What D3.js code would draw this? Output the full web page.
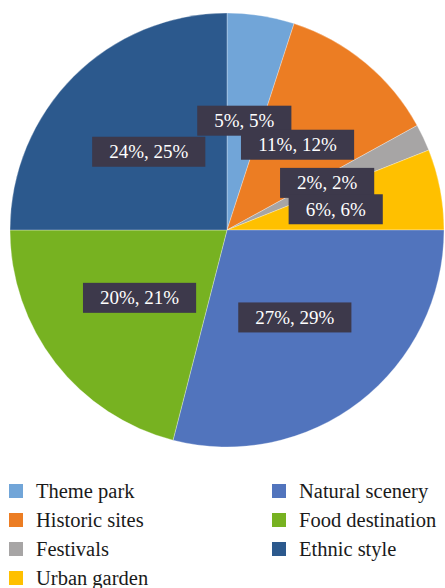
<!DOCTYPE html>
<html>
<head>
<meta charset="utf-8">
<script src="https://cdn.jsdelivr.net/npm/d3@7/dist/d3.min.js"></script>
<style>
  html, body { margin: 0; padding: 0; background: #ffffff; }
  svg { display: block; }
  svg text { font-family: 'Liberation Serif' !important; }
</style>
</head>
<body>
<svg id="pie" width="445" height="588"></svg>
<script>
// Tourism preference categories
const categories = ["Theme park", "Historic sites", "Festivals", "Urban garden",
                    "Natural scenery", "Food destination", "Ethnic style"];
// First figure in each label
const firstShare = [5, 11, 2, 6, 27, 20, 24];
// Second figure in each label (slice size)
const secondShare = [5, 12, 2, 6, 29, 21, 25];
const colors = ["#71a5d8", "#ec7d23", "#a7a5a5", "#ffc000", "#5174bd", "#77b221", "#2c598d"];

const FONT = "'Liberation Serif'";
const LABEL_SIZE = 19;

// Advance widths (in em) of the serif face, used to size the label boxes
function textWidthEm(str) {
  let w = 0;
  for (const ch of str) {
    if (/[0-9]/.test(ch)) w += 0.5;
    else if (ch === "%") w += 0.833;
    else w += 0.25;
  }
  return w;
}

const svg = d3.select("#pie");
const cx = 227, cy = 230, R = 217;

const pie = d3.pie().sort(null).value(d => d.v);
const data = categories.map((c, i) => ({ name: c, v: secondShare[i], a: firstShare[i], color: colors[i] }));
const arcs = pie(data);

const arc = d3.arc().innerRadius(0).outerRadius(R);
const labelArc = d3.arc().innerRadius(R * 0.51).outerRadius(R * 0.51);

const g = svg.append("g").attr("transform", `translate(${cx},${cy})`);

g.selectAll("path.slice")
  .data(arcs)
  .join("path")
  .attr("class", "slice")
  .attr("d", arc)
  .attr("fill", d => d.data.color)
  .attr("stroke", "#ffffff")
  .attr("stroke-opacity", 0.5)
  .attr("stroke-width", 0.6);

// Data labels: dark boxes with white text
const lbl = g.selectAll("g.lbl")
  .data(arcs)
  .join("g")
  .attr("class", "lbl")
  .attr("transform", d => `translate(${labelArc.centroid(d)})`);

const padX = 17, boxH = 30;
lbl.append("rect")
  .attr("x", d => -(textWidthEm(`${d.data.a}%, ${d.data.v}%`) * LABEL_SIZE) / 2 - padX)
  .attr("y", -boxH / 2)
  .attr("width", d => textWidthEm(`${d.data.a}%, ${d.data.v}%`) * LABEL_SIZE + padX * 2)
  .attr("height", boxH)
  .attr("fill", "#3d394b");

lbl.append("text")
  .attr("text-anchor", "middle")
  .attr("dy", "0.33em")
  .attr("fill", "#ffffff")
  .attr("font-size", LABEL_SIZE)
  .style("font-family", FONT, "important")
  .text(d => `${d.data.a}%, ${d.data.v}%`);

// Legend in two columns
const legend = svg.append("g");
const colX = [9, 272], rowY0 = 491, rowStep = 29, perCol = 4;
const item = legend.selectAll("g.item")
  .data(data)
  .join("g")
  .attr("class", "item")
  .attr("transform", (d, i) => `translate(${colX[Math.floor(i / perCol)]},${rowY0 + (i % perCol) * rowStep})`);

item.append("rect")
  .attr("x", 0).attr("y", -7)
  .attr("width", 14).attr("height", 14)
  .attr("fill", d => d.color);

item.append("text")
  .attr("x", 27)
  .attr("dy", "0.33em")
  .attr("font-size", 20.5)
  .attr("fill", "#1a1a1a")
  .style("font-family", FONT, "important")
  .text(d => d.name);
</script>
</body>
</html>
